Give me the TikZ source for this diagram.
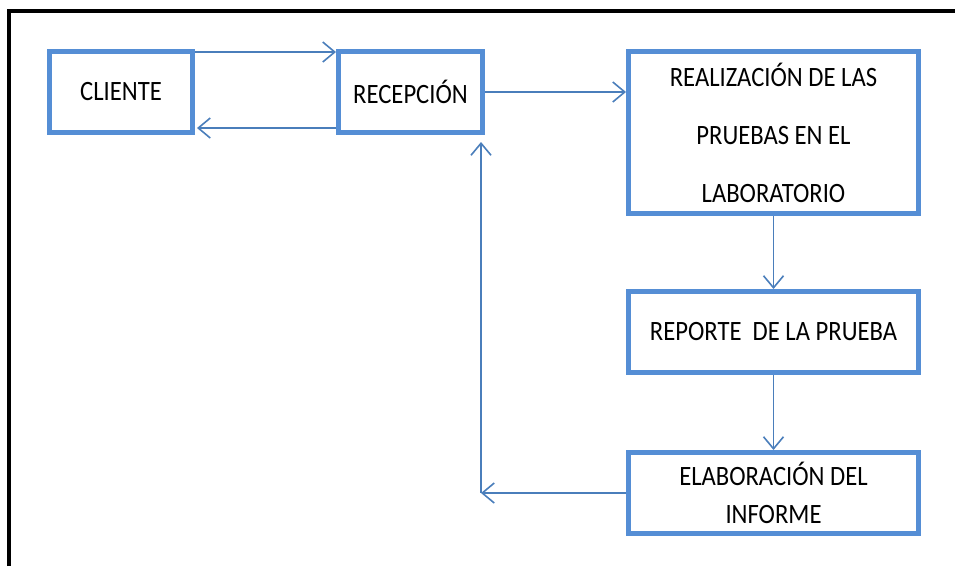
\documentclass[tikz,border=0pt]{standalone}
\usepackage{fontspec}
\setmainfont{Carlito}[FakeStretch=0.88]
\usetikzlibrary{arrows.meta,positioning}

\definecolor{caja}{RGB}{85,142,213}
\definecolor{flecha}{RGB}{74,126,187}

\begin{document}
\begin{tikzpicture}[x=1pt,y=-1pt,node distance=141pt,
    box node/.style={rectangle,draw=caja,line width=5pt,minimum height=81pt,align=center,font=\fontsize{28pt}{38pt}\selectfont},
    flow/.style={draw=flecha,line width=1.6pt,-{Straight Barb[length=12pt,width=20pt]}}]
    \useasboundingbox (0,0) rectangle (955,566);
    \draw[line width=4pt] (9,566) -- (9,11) -- (958,11);

    \node[box node,minimum width=143pt] (cliente) at (121,92) {CLIENTE};
    \node[box node,minimum width=144pt] (recepcion) [right=of cliente] {RECEPCIÓN};
    \node[box node,minimum width=290pt,minimum height=162pt,font=\fontsize{28pt}{58pt}\selectfont] (realizacion) [right=of recepcion.north east,anchor=north west] {REALIZACIÓN DE LAS\\PRUEBAS EN EL\\LABORATORIO};
    \node[box node,minimum width=290pt] (reporte) [below=73pt of realizacion] {REPORTE \ DE LA PRUEBA};
    \node[box node,minimum width=290pt] (elaboracion) [below=75pt of reporte] {ELABORACIÓN DEL\\INFORME};
    \coordinate (esquina) at ([xshift=-4pt]recepcion.east |- elaboracion.west);

    \path[flow] ([yshift=-3pt]cliente.north east) -- ([yshift=-3pt]recepcion.north west);
    \path[flow] ([yshift=7pt]recepcion.south west) -- ([yshift=7pt,xshift=2pt]cliente.south east);
    \path[flow] (recepcion.east) -- (recepcion.east -| realizacion.west);
    \path[flow] (realizacion.south) -- (reporte.north);
    \path[flow] (reporte.south) -- (elaboracion.north);
    \path[flow] (elaboracion.west) -- (esquina);
    \path[flow,shorten >=7pt] (esquina) -- ([xshift=-4pt]recepcion.south east);
\end{tikzpicture}
\end{document}
